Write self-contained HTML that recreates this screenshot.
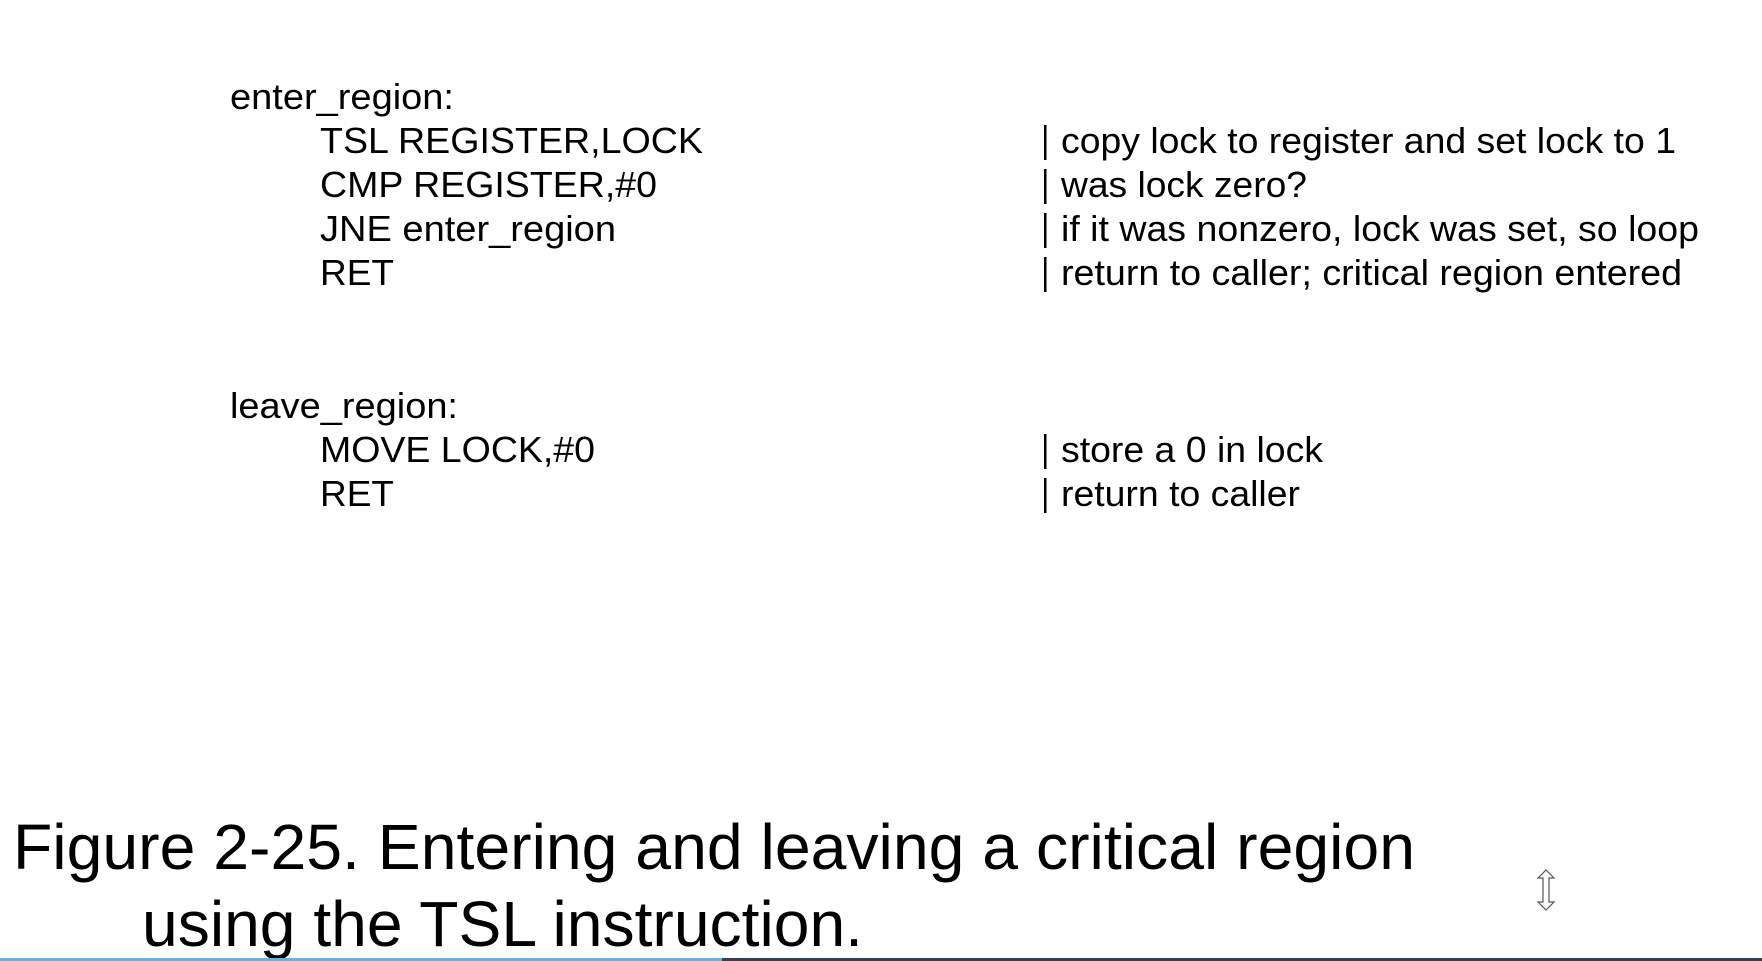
<!DOCTYPE html>
<html><head><meta charset="utf-8"><style>
html,body{margin:0;padding:0;background:#fff;width:1762px;height:961px;overflow:hidden}
svg{display:block}
text{font-family:"Liberation Sans",Arial,sans-serif;fill:#000}
</style></head><body>
<svg width="1762" height="961" viewBox="0 0 1762 961" xmlns="http://www.w3.org/2000/svg">
<g font-size="36">
<text x="230" y="109" textLength="224" lengthAdjust="spacingAndGlyphs">enter_region:</text>
<text x="320" y="153" textLength="383" lengthAdjust="spacingAndGlyphs">TSL REGISTER,LOCK</text>
<text x="320" y="197" textLength="337" lengthAdjust="spacingAndGlyphs">CMP REGISTER,#0</text>
<text x="320" y="241" textLength="296" lengthAdjust="spacingAndGlyphs">JNE enter_region</text>
<text x="320" y="285" textLength="74" lengthAdjust="spacingAndGlyphs">RET</text>
<text x="230" y="418" textLength="228" lengthAdjust="spacingAndGlyphs">leave_region:</text>
<text x="320" y="462" textLength="275" lengthAdjust="spacingAndGlyphs">MOVE LOCK,#0</text>
<text x="320" y="506" textLength="74" lengthAdjust="spacingAndGlyphs">RET</text>

<text x="1061" y="153" textLength="615" lengthAdjust="spacingAndGlyphs">copy lock to register and set lock to 1</text>
<text x="1061" y="197" textLength="246" lengthAdjust="spacingAndGlyphs">was lock zero?</text>
<text x="1061" y="241" textLength="638" lengthAdjust="spacingAndGlyphs">if it was nonzero, lock was set, so loop</text>
<text x="1061" y="285" textLength="621" lengthAdjust="spacingAndGlyphs">return to caller; critical region entered</text>
<text x="1061" y="462" textLength="262" lengthAdjust="spacingAndGlyphs">store a 0 in lock</text>
<text x="1061" y="506" textLength="239" lengthAdjust="spacingAndGlyphs">return to caller</text>
</g>
<g fill="#000">
<rect x="1044" y="125" width="2.5" height="35"/>
<rect x="1044" y="169" width="2.5" height="35"/>
<rect x="1044" y="213" width="2.5" height="35"/>
<rect x="1044" y="257" width="2.5" height="35"/>
<rect x="1044" y="434" width="2.5" height="35"/>
<rect x="1044" y="478" width="2.5" height="35"/>
</g>
<text x="13" y="869" font-size="64" textLength="1402" lengthAdjust="spacingAndGlyphs">Figure 2-25. Entering and leaving a critical region</text>
<text x="142" y="946" font-size="64" textLength="721" lengthAdjust="spacingAndGlyphs">using the TSL instruction.</text>
<path d="M1546 870 L1554 878 L1549 878 L1549 902 L1554 902 L1546 910 L1538 902 L1543 902 L1543 878 L1538 878 Z" fill="#fff" stroke="#555" stroke-width="1.2"/>
<rect x="0" y="958" width="1762" height="3" fill="#36424b"/>
<rect x="0" y="958" width="722" height="3" fill="#5ab4ea"/>
</svg>
</body></html>
